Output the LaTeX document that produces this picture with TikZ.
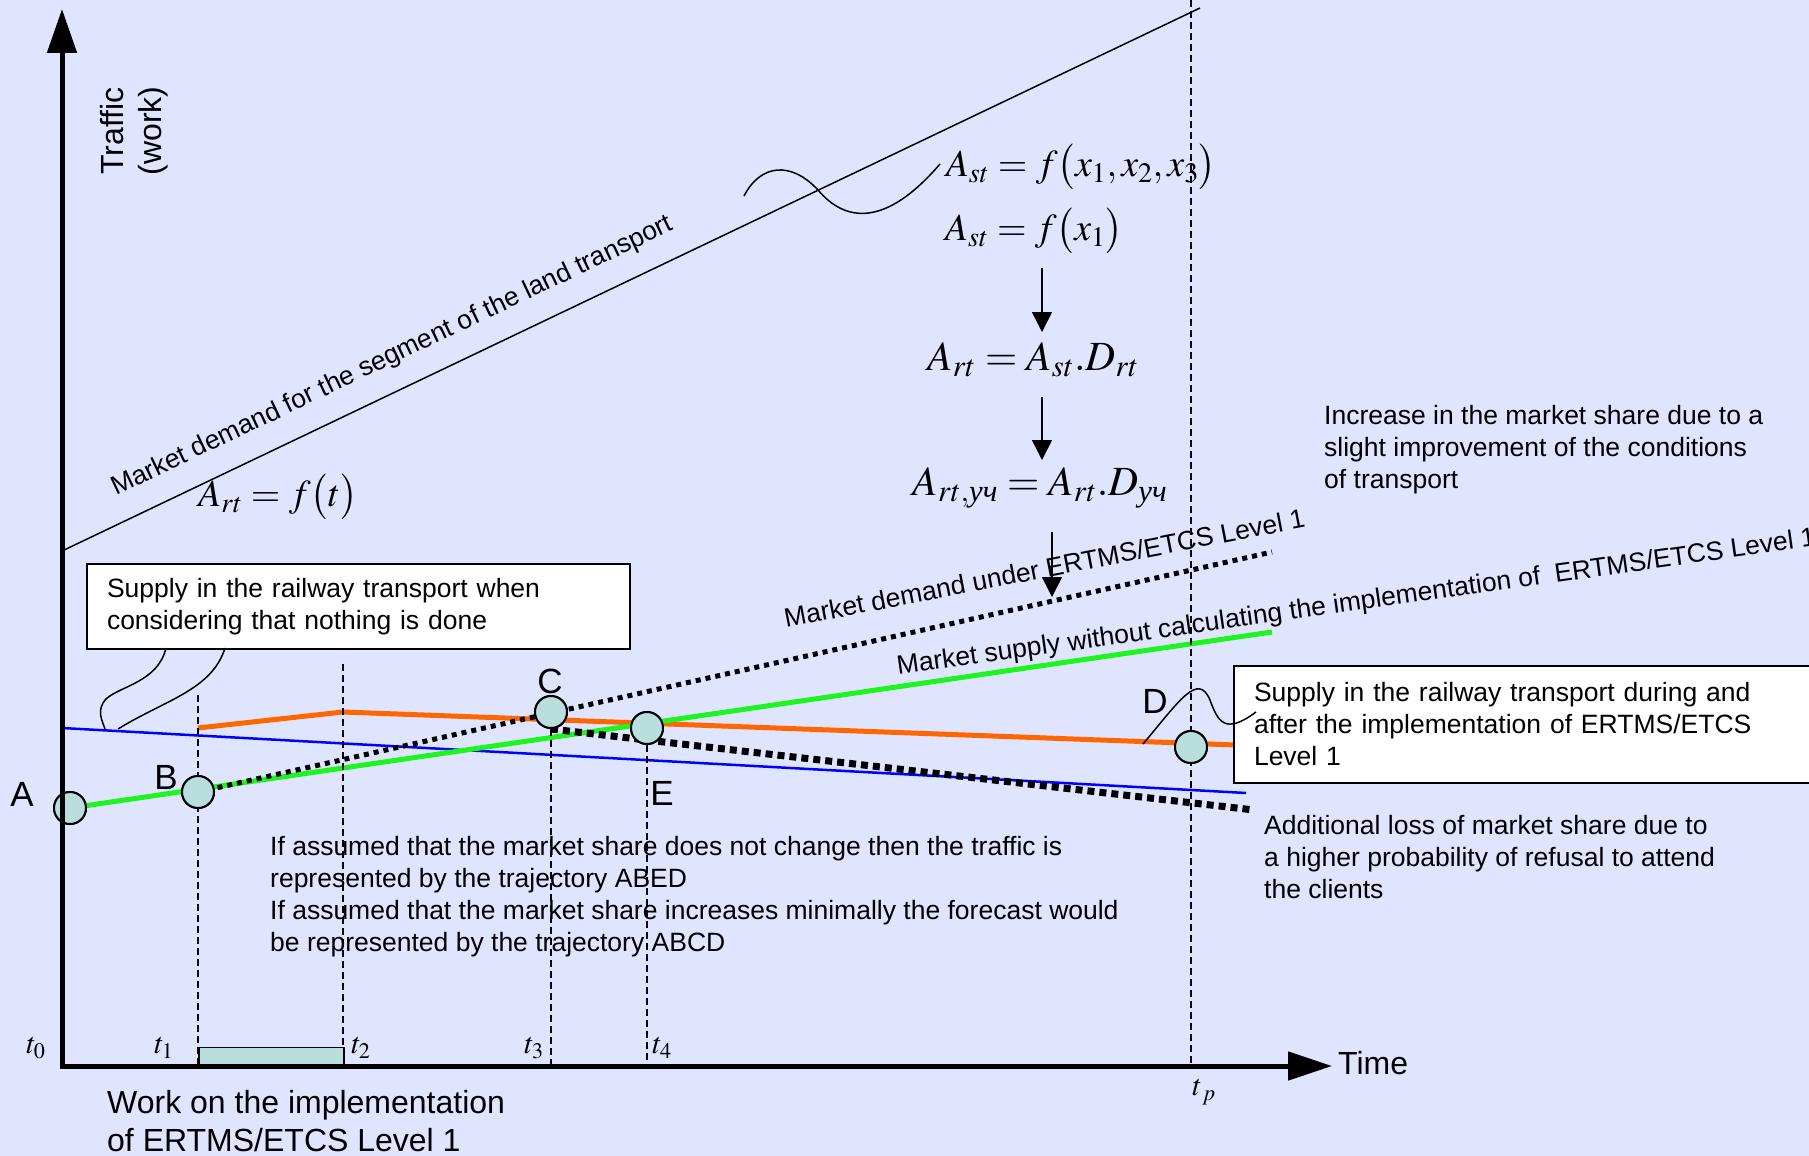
\documentclass[tikz,border=0pt]{standalone}
\usepackage{amsmath}
\usepackage{mathptmx}
\usepackage[no-math]{fontspec}
\setmainfont{Liberation Sans}
\newfontfamily\tmsfam{Liberation Serif}
\usetikzlibrary{arrows.meta,shapes.geometric}
\definecolor{bgc}{RGB}{223,229,254}
\definecolor{ptfill}{RGB}{186,222,222}
\definecolor{orng}{RGB}{255,102,0}
\definecolor{grn}{RGB}{30,245,30}
\definecolor{blu}{RGB}{0,0,255}
\thickmuskip=4mu plus 2mu
\tikzset{
  txt/.style={font=\fontsize{26.5}{32}\selectfont, inner sep=0pt, align=left},
  axlbl/.style={font=\fontsize{32}{38}\selectfont, inner sep=0pt},
  ptlbl/.style={font=\fontsize{35}{40}\selectfont, inner sep=0pt},
  pt/.style={circle, draw=black, line width=2pt, fill=ptfill, minimum size=32pt, inner sep=0pt},
  callbox/.style={txt, draw=black, line width=2pt, fill=white, anchor=north west, inner xsep=20pt, inner ysep=0pt},
  vdash/.style={line width=1.4pt, dash pattern=on 7pt off 4pt},
  thinline/.style={line width=1.5pt},
  fml/.style={inner sep=0pt, font=\fontsize{38}{44}\selectfont},
  fmlbig/.style={inner sep=0pt, font=\fontsize{41.5}{48}\selectfont},
  tlbl/.style={inner sep=0pt, font=\fontsize{30}{36}\selectfont},
  darrow/.style={line width=1.5pt, -{Triangle[width=20pt,length=20pt]}},
  axis/.style={line width=5pt},
}
\begin{document}
\begin{tikzpicture}[x=1pt,y=-1pt]
\useasboundingbox (0,0) rectangle (1809,1156);
\fill[bgc] (0,0) rectangle (1809,1156);
\clip (0,0) rectangle (1809,1156);

% coordinates
\coordinate (O) at (62,1066);
\coordinate (ytop) at (62,9);
\coordinate (xend) at (1332,1066);
\coordinate (md0) at (62,551);
\coordinate (md1) at (1200,8);
\coordinate (bl0) at (62,728);
\coordinate (bl1) at (1246,793);
\coordinate (or0) at (198,728);
\coordinate (or1) at (343,712);
\coordinate (or2) at (1236,745);
\coordinate (gend) at (1272,632);
\coordinate (dmend) at (1272,552);
\coordinate (tdend) at (1254,810);

% points
\node[pt] (A) at (70,808) {};
\node[pt] (B) at (198,792) {};
\node[pt] (C) at (551,712) {};
\node[pt] (E) at (647,728) {};
\node[pt] (D) at (1191,747) {};

% market demand line
\draw[thinline] (md0) -- (md1);
% blue line
\draw[blu, line width=2.5pt] (bl0) -- (bl1);
% orange line
\draw[orng, line width=5pt] (or0) -- (or1) -- (or2);
% green line
\draw[grn, line width=5pt] (A.center) -- (gend);
% thin dotted
\draw[line width=5pt, dash pattern=on 5pt off 5pt] (B.center) -- (dmend);
% thick dotted
\draw[line width=7pt, dash pattern=on 7pt off 5pt] (C.south) -- (tdend);

% dashed verticals
\coordinate (t1a) at (198,695); \coordinate (t1b) at (198,1066);
\coordinate (t2a) at (343,664); \coordinate (t2b) at (343,1066);
\coordinate (t3b) at (551,1066);
\coordinate (t4b) at (647,1066);
\coordinate (tpa) at (1191,0); \coordinate (tpb) at (1191,1066);
\draw[vdash] (t1a) -- (t1b);
\draw[vdash] (t2a) -- (t2b);
\draw[vdash] (C.south) -- (t3b);
\draw[vdash] (E.south) -- (t4b);
\draw[vdash] (tpa) -- (tpb);

% redraw points on top
\node[pt] at (A) {};
\node[pt] at (B) {};
\node[pt] at (C) {};
\node[pt] at (E) {};
\node[pt] at (D) {};

% work bar
\node[draw=black, line width=1.5pt, fill=ptfill, minimum width=145pt, minimum height=18pt, inner sep=0pt, anchor=south west] (work) at (198,1066) {};

% axes
\draw[axis, -{Triangle[width=29pt,length=44pt]}] (O) -- (ytop);
\draw[axis, -{Triangle[width=28pt,length=44pt]}] ([xshift=-2.5pt]O) -- (xend);

% axis labels
\node[axlbl, font=\fontsize{32}{38}\selectfont, rotate=90, align=center] (traffic) at (134,131) {Traffic\\(work)};
\node[axlbl, anchor=west] (time) at (1338,1063) {Time};

% point labels
\node[ptlbl] (lA) at (22,794) {A};
\node[ptlbl] (lB) at (166,777) {B};
\node[ptlbl] (lC) at (550,681) {C};
\node[ptlbl] (lD) at (1155,701) {D};
\node[ptlbl] (lE) at (662,793) {E};

% time labels
\node[tlbl] (lt0) at (36,1048) {$t_0$};
\node[tlbl] (lt1) at (164,1048) {$t_1$};
\node[tlbl] (lt2) at (361,1048) {$t_2$};
\node[tlbl] (lt3) at (534,1048) {$t_3$};
\node[tlbl] (lt4) at (662,1048) {$t_4$};
\node[tlbl] (ltp) at (1204,1092) {$t_{\,p}$};

% boxes
\node[callbox, minimum width=543pt, minimum height=85pt, text width=503pt] (box1) at (86,563)
  {Supply in the railway transport when\\considering that nothing is done};
\node[callbox, minimum width=620pt, minimum height=117pt, text width=580pt] (box2) at (1233,665)
  {Supply in the railway transport during and\\after the implementation of ERTMS/ETCS\\Level 1};

% callouts box1
\coordinate (c1a) at (166,648); \coordinate (c1b) at (105,729);
\coordinate (c2a) at (225,648); \coordinate (c2b) at (118,729);
\draw[thinline] (c1a) .. controls (158,682) and (120,686) .. (106,699) .. controls (96,710) and (102,720) .. (c1b);
\draw[thinline] (c2a) .. controls (212,690) and (165,700) .. (c2b);

% callout D
\coordinate (dw0) at (1143,744); \coordinate (dw1) at (1256,712);
\draw[thinline] (dw0) .. controls (1180,700) and (1198,672) .. (1210,700) .. controls (1218,722) and (1225,735) .. (dw1);

% top wave
\coordinate (tw0) at (744,196); \coordinate (tw1) at (940,164);
\draw[thinline] (tw0) .. controls (760,165) and (790,160) .. (818,190) .. controls (845,222) and (885,228) .. (tw1);

% formulas
\node[fml] (f1) at (1081,167) {$A_{st} = f\bigl(x_1, x_2, x_3\bigr)$};
\node[fml] (f2) at (1034,231) {$A_{st} = f\bigl(x_1\bigr)$};
\node[fmlbig] (f3) at (1033,360) {$A_{rt} = A_{st}.D_{rt}$};
\node[fmlbig] (f4) at (1040,488) {$A_{rt,\text{\tmsfam\itshape уч}} = A_{rt}.D_{\text{\tmsfam\itshape уч}}$};
\node[fml] (f5) at (278,497) {$A_{rt} = f\bigl(t\bigr)$};

\coordinate (a1a) at (1042,268); \coordinate (a1b) at (1042,332);
\coordinate (a2a) at (1042,397); \coordinate (a2b) at (1042,460);
\coordinate (a3a) at (1052,532); \coordinate (a3b) at (1052,597);
\draw[darrow] (a1a) -- (a1b);
\draw[darrow] (a2a) -- (a2b);
\draw[darrow] (a3a) -- (a3b);

% line labels
\node[txt, anchor=base west, rotate=25.5] (lmd) at (116,496) {Market demand for the segment of the land transport};
\node[txt, anchor=base west, rotate=11] (lmdu) at (786,628) {Market demand under ERTMS/ETCS Level 1};
\node[txt, anchor=base west, rotate=8] (lms) at (898,675) {Market supply without calculating the implementation of \ ERTMS/ETCS Level 1};

% free texts
\node[txt, anchor=west] (tinc) at (1324,450) {Increase in the market share due to a\\slight improvement of the conditions\\of transport};
\node[txt, anchor=west] (tadd) at (1264,857) {Additional loss of market share due to\\a higher probability of refusal to attend\\the clients};
\node[txt, anchor=west] (tif) at (270,897) {If assumed that the market share does not change then the traffic is\\represented by the trajectory ABED\\If assumed that the market share increases minimally the forecast would\\be represented by the trajectory ABCD};
\node[txt, font=\fontsize{32}{38}\selectfont, anchor=west] (twork) at (107,1121) {Work on the implementation\\of ERTMS/ETCS Level 1};
\end{tikzpicture}
\end{document}
